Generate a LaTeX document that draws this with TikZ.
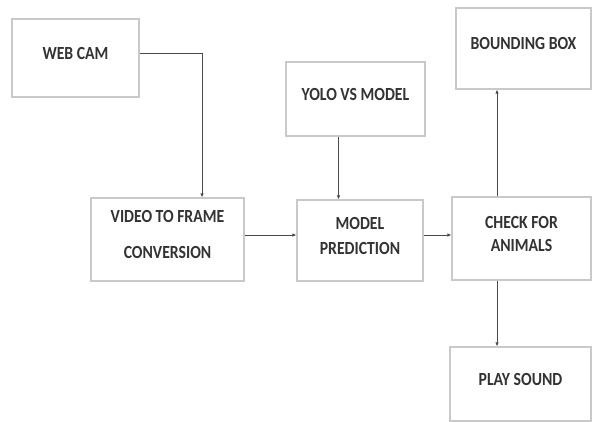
\documentclass[tikz,border=0pt]{standalone}
\usepackage{fontspec}
\setmainfont[FakeStretch=0.85]{Carlito}
\usepackage{xcolor}
\usetikzlibrary{arrows.meta}

\definecolor{trait}{HTML}{4A4A4A}
\definecolor{bord}{HTML}{C9C9C9}
\definecolor{texte}{HTML}{333333}

\begin{document}
\begin{tikzpicture}[x=1pt,y=-1pt,->,>={Latex[length=4pt,width=3.5pt]},
   line width=0.9pt,color=trait,
   bloc/.style={draw=bord,line width=1.2pt,fill=white,align=center,inner sep=0pt,
     text=texte,text depth=10pt,font=\fontsize{18.5}{22}\selectfont\bfseries}]

  \useasboundingbox (0,0) rectangle (592,422);

  \node[bloc,minimum width=127pt,minimum height=78pt](webcam) at (75.5,58) {WEB CAM};
  \node[bloc,minimum width=153pt,minimum height=83pt](video) at (167.5,239.5) {VIDEO TO FRAME\\[14pt]CONVERSION};
  \node[bloc,minimum width=139pt,minimum height=74pt](yolo) at (355.5,99) {YOLO VS MODEL};
  \node[bloc,minimum width=126pt,minimum height=81pt](model) at (360,240.5) {MODEL\\[3pt]PREDICTION};
  \node[bloc,minimum width=135pt,minimum height=81pt](bbox) at (523.5,48.5) {BOUNDING BOX};
  \node[bloc,minimum width=139pt,minimum height=83pt](check) at (521.5,238.5) {CHECK FOR\\[1pt]ANIMALS};
  \node[bloc,minimum width=141pt,minimum height=74pt](son) at (520.5,384) {PLAY SOUND};

  \draw ([yshift=5pt]webcam.east) -| ([xshift=34.5pt]video.north);
  \draw ([xshift=-17pt]yolo.south) -- ([xshift=-17pt]yolo.south |- model.north);
  \draw ([yshift=4.5pt]video.east) -- ([yshift=4.5pt]video.east -| model.west);
  \draw ([yshift=5.5pt]model.east) -- ([yshift=5.5pt]model.east -| check.west);
  \draw ([xshift=-24.5pt]check.north) -- ([xshift=-24.5pt]check.north |- bbox.south);
  \draw ([xshift=-24.5pt]check.south) -- ([xshift=-24.5pt]check.south |- son.north);
\end{tikzpicture}
\end{document}
